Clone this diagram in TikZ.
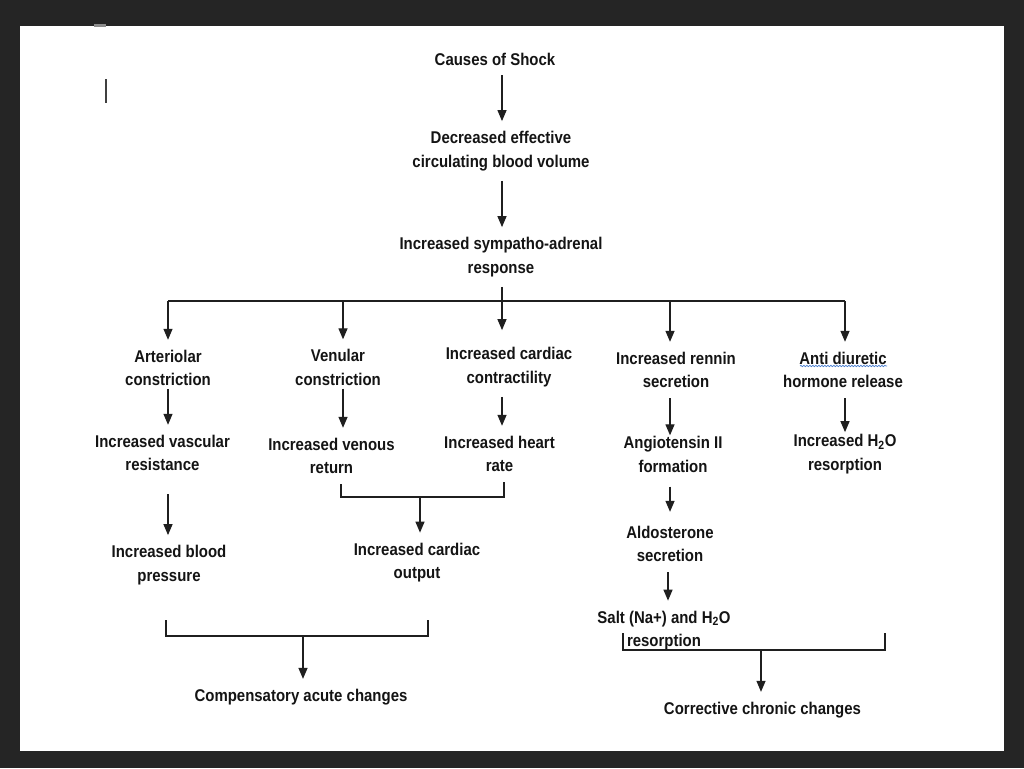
\documentclass[tikz,border=0pt]{standalone}
\usepackage{fontspec}
\setmainfont{Liberation Sans}[FakeStretch=0.88]
\usetikzlibrary{arrows.meta,calc,decorations.pathmorphing}
\definecolor{frame}{HTML}{252525}
\definecolor{spell}{HTML}{4A7FD0}
\begin{document}
\begin{tikzpicture}[x=1pt,y=-1pt,
  lbl/.style={align=center, inner xsep=2pt, inner ysep=10pt,
    font=\fontsize{17}{23.5}\selectfont\bfseries, text=black!92},
  ln/.style={draw=black!88, line width=1.3pt},
  arr/.style={ln, -{Triangle[length=11pt,width=9pt]}}]
\fill[frame] (0,0) rectangle (1024,768);
\fill[white] (20,26) rectangle (1004,751);
\useasboundingbox (0,0) rectangle (1024,768);
\fill[black!45] (94,24) rectangle (106,27.5);
\draw[black!75, line width=1.2pt] (106,79) -- (106,103);

% nodes
\node[lbl] (cause) at (495,59) {Causes of Shock};
\node[lbl] (dec) at (501,151) {Decreased effective\\circulating blood volume};
\node[lbl] (resp) at (501,257) {Increased sympatho-adrenal\\response};
\node[lbl] (art) at (168,368) {Arteriolar\\constriction};
\node[lbl] (ven) at (338,367.5) {Venular\\constriction};
\node[lbl] (cc) at (509,367) {Increased cardiac\\contractility};
\node[lbl] (ren) at (676,370) {Increased rennin\\secretion};
\node[lbl] (adh) at (843,370) {Anti diuretic\\hormone release};
\node[lbl] (vasc) at (162.5,453) {Increased vascular\\resistance};
\node[lbl] (vr) at (331.5,456) {Increased venous\\return};
\node[lbl] (hr) at (499.5,454) {Increased heart\\rate};
\node[lbl] (ang) at (673,454.5) {Angiotensin II\\formation};
\node[lbl] (h2o) at (845,454) {Increased H\textsubscript{2}O\\resorption};
\node[lbl] (bp) at (169,565) {Increased blood\\pressure};
\node[lbl] (co) at (417,562.5) {Increased cardiac\\output};
\node[lbl] (ald) at (670,544) {Aldosterone\\secretion};
\node[lbl] (salt) at (664,630.5) {Salt (Na+) and H\textsubscript{2}O\\resorption};
\node[lbl] (comp) at (301,697) {Compensatory acute changes};
\node[lbl] (corr) at (762.5,710) {Corrective chronic changes};

% spell-check underline
\draw[spell, line width=0.7pt, decorate,
  decoration={snake, amplitude=0.7pt, segment length=3pt}] (800,366) -- (887,366);

% column coordinates
\coordinate (sp) at (502,301);
\coordinate (c1) at (168,301);
\coordinate (c2) at (343,301);
\coordinate (c4) at (670,301);
\coordinate (c4b) at (668,301);
\coordinate (c5) at (845,301);
\coordinate (k1) at (341,0);
\coordinate (k2) at (504,0);
\coordinate (j1) at (420,497);
\coordinate (b2l) at (166,620);
\coordinate (b2r) at (428,620);
\coordinate (j2) at (303,636);
\coordinate (b3l) at (623,633);
\coordinate (b3r) at (885,633);
\coordinate (j3) at (761,650);

% top chain
\draw[arr] (cause.south -| sp) -- (dec.north -| sp);
\draw[arr] (dec.south -| sp) -- (resp.north -| sp);
\draw[ln] (c1) -- (c5);
\draw[arr, shorten >=7pt] (resp.south -| sp) -- (cc.north -| sp);
\draw[arr] (c1) -- (art.north -| c1);
\draw[arr] (c2) -- (ven.north -| c2);
\draw[arr] (c4) -- (ren.north -| c4);
\draw[arr] (c5) -- (adh.north -| c5);

% second row
\draw[arr, shorten <=-7pt] (art.south -| c1) -- (vasc.north -| c1);
\draw[arr, shorten <=-7pt] (ven.south -| c2) -- (vr.north -| c2);
\draw[arr] (cc.south -| sp) -- (hr.north -| sp);
\draw[arr, shorten >=-9pt] (ren.south -| c4) -- (ang.north -| c4);
\draw[arr, shorten >=-8pt] (adh.south -| c5) -- (h2o.north -| c5);

% left lower part
\draw[ln] (vr.south -| k1) |- (j1) -| (hr.south -| k2);
\draw[arr] (j1) -- (co.north -| j1);
\draw[arr, shorten <=13pt] (vasc.south -| c1) -- (bp.north -| c1);
\draw[ln] (b2l) |- (j2) -| (b2r);
\draw[arr] (j2) -- (comp.north -| j2);

% right lower part
\draw[arr, shorten <=4pt, shorten >=4pt] (ang.south -| c4) -- (ald.north -| c4);
\draw[arr] (ald.south -| c4b) -- (salt.north -| c4b);
\draw[ln] (b3l) |- (j3) -| (b3r);
\draw[arr] (j3) -- (corr.north -| j3);
\end{tikzpicture}
\end{document}
